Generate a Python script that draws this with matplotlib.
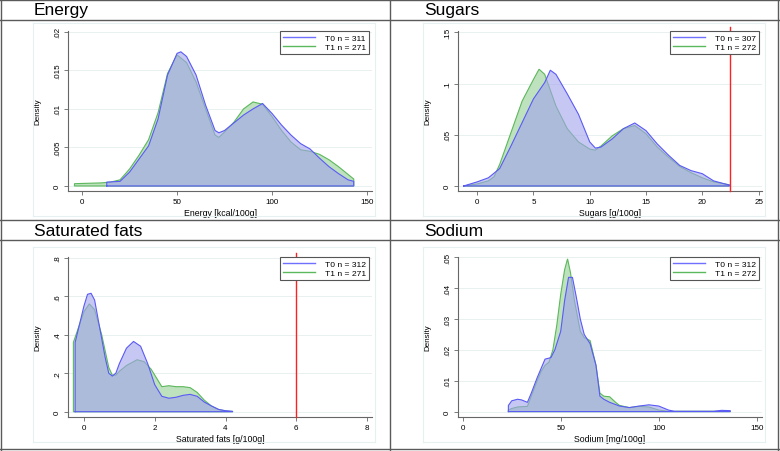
import matplotlib
matplotlib.use("Agg")
import matplotlib.pyplot as plt
from matplotlib.lines import Line2D
import numpy as np

plt.rcParams['font.family'] = ['Liberation Sans', 'DejaVu Sans']

# --- данные ---
energy_x_t0 = [13, 20, 25, 30, 35, 40, 45, 50, 52, 55, 60, 65, 70, 72, 75, 80, 85, 90, 95,
               100, 105, 110, 115, 120, 125, 130, 135, 140, 143]
energy_y_t0 = [.0005, .0006, .0018, .0035, .0052, .0087, .0144, .0172, .0174, .0168, .0144,
               .0105, .0072, .0069, .0072, .0082, .0092, .0100, .0107, .0094, .0079, .0066,
               .0055, .0048, .0036, .0025, .0016, .0008, .0006]
energy_x_t1 = [-4, 10, 15, 20, 25, 30, 35, 40, 45, 50, 55, 60, 65, 70, 72, 75, 80, 85, 90,
               95, 100, 105, 110, 115, 120, 125, 130, 135, 140, 143]
energy_y_t1 = [.0003, .0004, .0005, .0008, .0022, .0040, .0060, .0095, .0146, .0170, .0160,
               .0135, .0100, .0066, .0063, .0070, .0083, .0100, .0109, .0106, .0090, .0072,
               .0057, .0047, .0045, .0041, .0034, .0025, .0015, .0009]

sugars_x_t0 = [-1.2, 0, 1, 2, 3, 4, 5, 6, 6.5, 7, 8, 9, 10, 10.5, 11, 12, 13, 14, 15, 16,
               17, 18, 19, 20, 21, 22, 22.4]
sugars_y_t0 = [0, .004, .008, .017, .039, .062, .085, .101, .113, .109, .090, .070, .043,
               .037, .038, .046, .056, .0615, .054, .041, .030, .020, .015, .012, .005, .002,
               .001]
sugars_x_t1 = [-1.2, 0, 1, 1.5, 2, 3, 4, 5, 5.5, 6, 7, 8, 9, 10, 10.5, 11, 12, 13, 14, 15,
               16, 17, 18, 19, 20, 21, 22, 22.4]
sugars_y_t1 = [0, .002, .005, .009, .021, .052, .083, .104, .114, .109, .078, .056, .043,
               .036, .035, .039, .049, .056, .059, .051, .038, .028, .019, .013, .008, .004,
               .002, .001]

satfat_x_t0 = [-0.25, -0.25, 0, 0.1, 0.2, 0.3, 0.4, 0.5, 0.6, 0.7, 0.8, 0.9, 1.0, 1.2, 1.4,
               1.6, 1.8, 2.0, 2.2, 2.4, 2.6, 2.8, 3.0, 3.2, 3.4, 3.6, 3.8, 4.0, 4.2]
satfat_y_t0 = [0, .36, .55, .61, .615, .58, .48, .38, .28, .20, .185, .20, .25, .33, .365,
               .34, .25, .14, .08, .07, .075, .085, .09, .08, .05, .03, .012, .005, .002]
satfat_x_t1 = [-0.3, -0.3, 0, 0.15, 0.3, 0.5, 0.7, 0.8, 0.9, 1.0, 1.2, 1.5, 1.7, 1.9, 2.0,
               2.2, 2.4, 2.6, 2.8, 3.0, 3.2, 3.4, 3.6, 3.8, 4.0, 4.2]
satfat_y_t1 = [0, .36, .52, .56, .53, .40, .23, .19, .19, .21, .24, .27, .26, .22, .19,
               .13, .135, .13, .13, .125, .10, .06, .03, .012, .004, .001]

sodium_x_t0 = [23.3, 23.3, 25, 28, 30, 33, 35, 38, 40, 42, 45, 47, 50, 52, 54, 56, 58, 60,
               62, 65, 68, 70, 72, 75, 80, 85, 90, 95, 100, 105, 108, 128, 132, 136.5]
sodium_y_t0 = [0, .002, .0035, .004, .0038, .003, .006, .011, .014, .017, .0175, .020, .026,
               .036, .0435, .0435, .037, .030, .025, .022, .015, .005, .004, .003, .0018,
               .0013, .0018, .0022, .0018, .0005, .0001, .0001, .0004, .0003]
sodium_x_t1 = [23.3, 23.3, 25, 28, 33, 35, 38, 40, 42, 44, 46, 48, 50, 52, 53.5, 55, 57,
               60, 62, 65, 68, 70, 72, 75, 78, 80, 85, 90, 95, 100, 105, 136.5]
sodium_y_t1 = [0, .0005, .001, .0015, .0017, .005, .010, .013, .015, .016, .020, .028,
               .038, .046, .0495, .045, .036, .026, .024, .023, .015, .006, .005, .0048,
               .003, .002, .0013, .0017, .0015, .0005, .0001, .0001]

titles = ['Energy', 'Sugars', 'Saturated fats', 'Sodium']
xlabels = ['Energy [kcal/100g]', 'Sugars [g/100g]', 'Saturated fats [g/100g]', 'Sodium [mg/100g]']
n_t0 = [311, 307, 312, 312]
n_t1 = [271, 272, 271, 272]
limit_lines = [None, 22.5, 6, None]
xticks = [[0, 50, 100, 150], [0, 5, 10, 15, 20, 25], [0, 2, 4, 6, 8], [0, 50, 100, 150]]
yticks = [[0, .005, .01, .015, .02], [0, .05, .1, .15], [0, .2, .4, .6, .8],
          [0, .01, .02, .03, .04, .05]]
curves = [(energy_x_t0, energy_y_t0, energy_x_t1, energy_y_t1),
          (sugars_x_t0, sugars_y_t0, sugars_x_t1, sugars_y_t1),
          (satfat_x_t0, satfat_y_t0, satfat_x_t1, satfat_y_t1),
          (sodium_x_t0, sodium_y_t0, sodium_x_t1, sodium_y_t1)]

# --- оформление ---
W, H = 780, 452
xlims = [(-7.4, 152.6), (-1.70, 25.3), (-0.452, 8.14), (-2.4, 152.7)]
ylims = [(-0.00065, 0.0201), (-0.0049, 0.1513), (-0.0275, 0.8036), (-0.00175, 0.0501)]
blue_line, green_line = '#5a5af5', '#5cb85c'
blue_fill, green_fill = '#a3a3ee', '#bee1be'


def fmt(v):
    s = ('%g' % v)
    return s[1:] if s.startswith('0.') else s


fig = plt.figure(figsize=(W / 100, H / 100), dpi=100)

# рамки панелей
def hline(y, x0=0, x1=W, **kw):
    fig.add_artist(Line2D([x0 / W, x1 / W], [1 - y / H, 1 - y / H], **kw))

def vline(x, y0=0, y1=H, **kw):
    fig.add_artist(Line2D([x / W, x / W], [1 - y0 / H, 1 - y1 / H], **kw))

dark = dict(color='#5a5a5a', lw=1.0)
for y in [1, 21, 221, 241, 450]:
    hline(y, **dark)
vline(1, **dark)
vline(778, **dark)
vline(390, **dark)

for i in range(4):
    ox = 0 if i % 2 == 0 else 390
    oy = 0 if i < 2 else 221
    # светлая внутренняя рамка
    faint = dict(color='#e6f0f0', lw=0.8)
    top_f, bot_f = (oy + 24, oy + 217) if i < 2 else (oy + 27, oy + 222)
    hline(top_f, ox + 33, ox + 375, **faint)
    hline(bot_f, ox + 33, ox + 375, **faint)
    vline(ox + 33, top_f, bot_f, **faint)
    vline(ox + 375, top_f, bot_f, **faint)

    fig.text((ox + 34) / W, 1 - (oy + 11) / H, titles[i], fontsize=12.5,
             ha='left', va='center')

    ay = 0 if i < 2 else 226
    left, right, top, bottom = ox + 68, ox + 372, ay + 32, ay + 192
    ax = fig.add_axes([left / W, 1 - bottom / H, (right - left) / W, (bottom - top) / H])

    x0, y0, x1, y1 = curves[i]
    ax.fill(np.r_[x1[0], x1, x1[-1]], np.r_[0, y1, 0], facecolor=green_fill,
            edgecolor=green_line, lw=0.8, zorder=2)
    ax.fill(np.r_[x0[0], x0, x0[-1]], np.r_[0, y0, 0], facecolor=blue_fill, alpha=0.6,
            edgecolor='none', zorder=3)
    ax.plot(np.r_[x0[0], x0, x0[-1], x0[0]], np.r_[0, y0, 0, 0], color=blue_line,
            lw=0.8, zorder=4)

    if limit_lines[i] is not None:
        ax.axvline(limit_lines[i], ymin=0, ymax=1.025, color='#ff2020', lw=1.0,
                   clip_on=False, zorder=5)

    ax.set_xlim(*xlims[i])
    ax.set_ylim(*ylims[i])
    ax.set_xticks(xticks[i])
    ax.set_xticklabels([fmt(v) for v in xticks[i]], fontsize=5.8)
    ax.set_yticks(yticks[i])
    ax.set_yticklabels([fmt(v) for v in yticks[i]], fontsize=5.8, rotation=90, va='center')
    ax.grid(axis='y', color='#e4eeee', lw=0.6, zorder=0)
    ax.set_axisbelow(True)
    for s in ['top', 'right']:
        ax.spines[s].set_visible(False)
    for s in ['left', 'bottom']:
        ax.spines[s].set_color('#666666')
        ax.spines[s].set_linewidth(0.8)
    ax.tick_params(length=3, width=0.6, color='#666666', pad=2)
    ax.set_xlabel(xlabels[i], fontsize=6.3, labelpad=2)
    ax.set_ylabel('Density', fontsize=5.8)
    ax.yaxis.set_label_coords(-0.089, 0.5)

    handles = [Line2D([], [], color='#7070ff', lw=1.0), Line2D([], [], color=green_line, lw=1.0)]
    leg = ax.legend(handles, ['T0 n = %d' % n_t0[i], 'T1 n = %d' % n_t1[i]],
                    loc='upper right', bbox_to_anchor=(0.99, 1.0), borderaxespad=0,
                    fontsize=6.1, handlelength=3.8, fancybox=False, framealpha=1,
                    edgecolor='#555555', borderpad=0.35, labelspacing=0.15,
                    handletextpad=1.2)
    leg.get_frame().set_linewidth(0.8)
    leg.set_zorder(10)

fig.savefig('out.png', dpi=100)
